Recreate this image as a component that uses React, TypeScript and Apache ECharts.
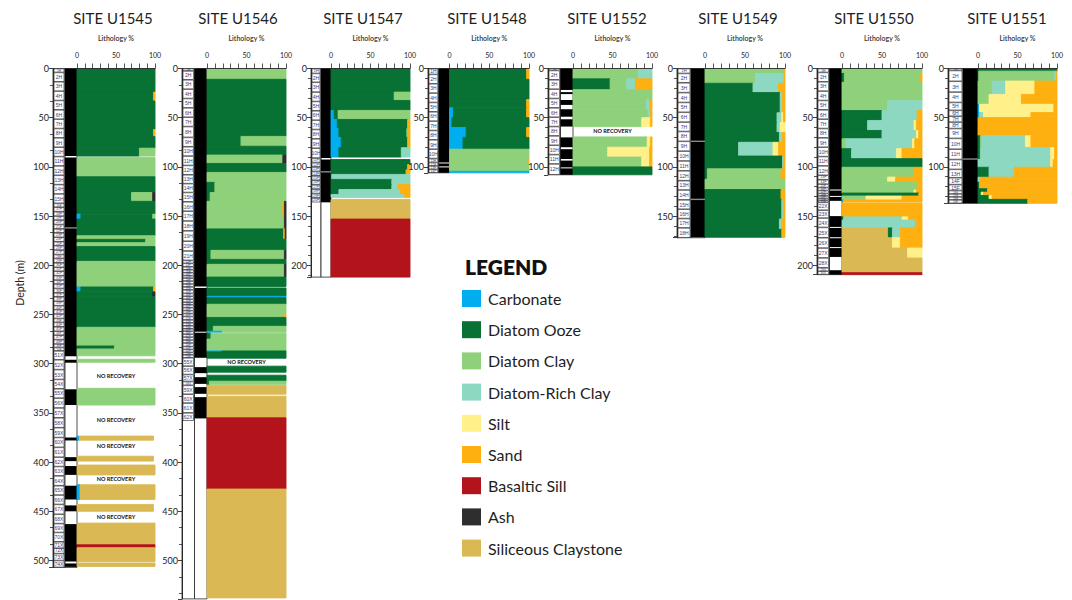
import React, { useEffect, useRef } from "react";
import * as echarts from "echarts";

// ---------------- data ----------------
const LITHOLOGY_NAMES = ["Carbonate", "Diatom Ooze", "Diatom Clay", "Diatom-Rich Clay", "Silt", "Sand", "Basaltic Sill", "Ash", "Siliceous Claystone"];
const LITHOLOGY_CODES = ["CA", "DO", "DC", "DR", "SI", "SA", "BS", "AS", "CL"];
const LITHOLOGY_COLORS = ["#00AEEF", "#087234", "#8FD17B", "#8DD8C1", "#FFF08A", "#FDB010", "#B3141B", "#2E2E2E", "#DAB954"];

const SITE_NAMES = ["SITE U1545", "SITE U1546", "SITE U1547", "SITE U1548", "SITE U1552", "SITE U1549", "SITE U1550", "SITE U1551"];
const DEPTH_MAX = [507, 539, 212, 106, 108, 172, 209.5, 137];
const DEPTH_STEP = 50;
const LITHO_TICKS = [0, 50, 100];

type Row = [number, number, string];

const LITH_U1545: Row[] = [
  [0, 24, "DO 100"], [24, 33, "DO 98 SA 2"], [33, 62, "DO 100"], [62, 69, "DO 98 SA 2"], [69, 81, "DO 100"],
  [81, 89, "DO 80 DC 20"], [90.5, 110, "DC 100"], [110, 126, "DO 100"], [126, 135, "DO 70 DC 27 AS 3"],
  [135, 148, "DO 100"], [148, 153, "CA 5 DO 92 DC 3"], [153, 170, "DO 100"], [170, 173.6, "DC 100"],
  [173.6, 177, "DO 88 DC 12"], [177, 181, "DC 100"], [181, 196, "DO 100"], [196, 222, "DC 100"],
  [222, 227, "CA 5 DO 93 SA 2"], [227, 232, "DO 97 AS 3"], [232, 263, "DO 100"], [263, 282, "DC 100"],
  [282, 285, "DO 48 DC 52"], [285, 292, "DC 100"], [295.5, 298.5, "DC 100"], [325, 342, "DC 100"],
  [373.6, 377.7, "CA 3 CL 95"], [394, 399, "CL 98"], [403, 413, "CL 100"], [423, 438, "CA 4 CL 96"],
  [443, 450, "CL 98"], [462, 484, "CL 100"], [484, 487, "BS 100"], [487, 501, "CL 100"], [502.5, 506, "CL 100"],
];
const LITH_U1546: Row[] = [
  [0, 11, "DC 100"], [11, 69, "DO 100"], [69, 79, "DO 43 DC 57"], [79, 88, "DO 100"], [88, 96.5, "DC 96 AS 4"],
  [96.5, 105.6, "DO 100"], [105.6, 115.7, "DC 100"], [115.7, 126, "DO 10 DC 90"], [126, 135, "DO 4 DC 96"],
  [135, 150, "DC 96 SA 2 AS 2"], [150, 163, "DC 98 AS 2"], [163, 173.6, "DO 97 SA 2 AS 1"], [173.6, 184.8, "DO 100"],
  [184.8, 194, "DO 5 DC 93 AS 2"], [194, 199, "DO 100"], [199, 212, "DC 98 AS 2"], [212, 221.5, "DO 100"],
  [223, 231.5, "DO 100"], [231.5, 233, "CA 100"], [233, 239.6, "DO 100"], [239.6, 250, "DC 100"], [250, 253, "DC 98 SA 2"],
  [253, 262, "DO 100"], [262, 267, "DO 8 DC 92"], [267, 268, "CA 19 DC 81"], [269, 275, "DO 5 DC 95"],
  [275, 287, "DC 100"], [287, 288, "CA 19 DO 81"], [288, 294.4, "DO 100"], [302.5, 308.6, "DO 100"],
  [311.7, 317.8, "DO 100"], [317.8, 321, "DO 3 DC 97"], [322, 331, "CL 100"], [333, 355, "CL 100"],
  [355, 427.4, "BS 100"], [427.4, 538, "CL 100"],
];
const LITH_U1547: Row[] = [
  [0, 24, "DO 100"], [24, 32.5, "DO 80 DC 20"], [32.5, 42.6, "DO 100"], [42.6, 51.8, "CA 4 DO 5 DC 91"],
  [51.8, 61, "CA 8 DO 89 SA 3"], [61, 70, "CA 10 DO 86 DC 2 SA 2"], [70, 80.5, "CA 13 DO 84 SA 3"],
  [80.5, 90, "CA 10 DO 79 DR 11"], [92.5, 97.5, "DO 100"], [97.5, 103, "DO 97 SA 3"], [103, 107.6, "DO 95 SA 5"],
  [107.6, 112.7, "DO 1 DR 99"], [112.7, 118, "DO 77 DR 23"], [118, 123, "DO 77 DR 8 SA 15"],
  [123, 128, "DO 10 DR 78 SA 12"], [128, 131, "DR 93 SA 7"], [133, 153, "CL 100"], [153, 212, "BS 100"],
];
const LITH_U1548: Row[] = [
  [0, 11, "DO 97 SA 3"], [11, 31.5, "DO 100"], [31.5, 40, "DO 97 SA 3"], [40, 50, "CA 5 DO 92 SA 3"],
  [50, 60, "CA 3 DO 97"], [60, 70, "CA 21 DO 76 SA 3"], [70, 82, "CA 17 DO 83"], [82, 92, "DC 100"],
  [92, 97, "DC 98 SA 2"], [97, 104.5, "DC 100"], [104.5, 106, "CA 100"],
];
const LITH_U1552: Row[] = [
  [0, 10.5, "DC 83 DR 17"], [10.5, 21.5, "DO 47 DC 21 DR 11 SA 21"], [21.5, 31.5, "DC 100"],
  [31.5, 42, "DC 93 DR 4 SA 3"], [42, 50, "DC 95 DR 3 SA 2"], [50, 59, "DC 87 SI 11 SA 2"],
  [69.5, 80, "DC 94 SI 4 SA 2"], [80, 90, "DC 44 SI 53 SA 3"], [90, 100, "DC 87 SI 10 SA 3"], [100, 108, "DO 100"],
];
const LITH_U1549: Row[] = [
  [0, 5, "DC 99 SA 1"], [5, 15, "DC 63 DR 36 SA 1"], [15, 24.5, "DO 60 DR 32 SA 8"], [24.5, 45, "DO 94 DR 3 SA 3"],
  [45, 55, "DO 90 DR 6 SI 2 SA 2"], [55, 65, "DO 90 DR 4 SI 6"], [65, 75, "DO 93 DR 4 SA 3"],
  [75, 89, "DO 42 DR 43 SI 7 SA 8"], [89, 102, "DO 97 DR 1 SA 2"], [102, 112.5, "DO 3 DC 92 SA 5"],
  [112.5, 123, "DC 100"], [123, 133, "DO 95 SA 5"], [133, 153, "DO 96 DR 2 SA 2"], [153, 163.5, "DO 93 DR 3 SA 4"],
  [163.5, 171.5, "DO 96 SA 4"],
];
const LITH_U1550: Row[] = [
  [0, 5, "DC 100"], [5, 14, "DO 3 DC 95 SA 2"], [14, 32.6, "DC 100"], [32.6, 42.7, "DC 57 DR 43"],
  [42.7, 52.8, "DO 50 DR 44 SA 6"], [52.8, 63, "DO 32 DR 58 SI 3 SA 7"], [63, 71.4, "DO 50 DR 43 SI 3 SA 4"],
  [71.4, 81.5, "DC 5 DR 83 SI 3 SA 9"], [81.5, 91.6, "DO 12 DR 56 SI 7 SA 25"], [91.6, 100.4, "DO 100"],
  [100.4, 110.4, "DC 90 SA 10"], [110.4, 115.4, "DC 57 SI 10 SA 33"], [115.4, 123.5, "DC 94 SA 6"],
  [123.5, 126.6, "DC 90 SI 3 SA 7"], [126.6, 129.6, "DO 96 SA 4"], [129.6, 133.6, "DC 30 SI 45 SA 25"],
  [133.6, 135.6, "CA 2 SA 98"], [136.6, 150.8, "SA 100"], [150.8, 154, "DO 2 DR 73 SI 8 SA 17"],
  [154, 162, "DR 92 SA 8"], [162, 172, "CL 58 DO 5 DR 10 SA 27"], [172, 182.5, "CL 63 SI 10 SA 27"],
  [182.5, 192.6, "CL 82 SI 18"], [192.6, 207.5, "CL 100"], [207.5, 209.5, "BS 100"],
];
const LITH_U1551: Row[] = [
  [0, 2.7, "DO 100"], [2.7, 12.8, "DO 1 DC 96 DR 2 SA 1"], [12.8, 26.3, "DC 18 DR 17 SI 37 SA 28"],
  [26.3, 36.4, "DC 14 SI 41 SA 45"], [36.4, 44.8, "CA 2 SI 94 SA 4"], [44.8, 49.9, "CA 2 DR 5 SI 60 SA 33"],
  [49.9, 68.4, "SA 100"], [68.4, 80.2, "DO 3 DC 2 DR 55 SI 7 SA 33"], [80.2, 92, "DO 3 DR 89 SI 5 SA 3"],
  [92.5, 100.4, "DR 92 SI 3 SA 5"], [100.4, 110.5, "DO 14 DR 32 SA 54"], [110.5, 115.5, "DR 3 SA 97"],
  [115.5, 122.2, "DO 2 SA 98"], [122.2, 125.7, "DO 12 SA 88"], [125.7, 129, "DO 4 SI 3 SA 93"],
  [129, 133, "DO 14 SI 4 SA 82"], [133, 137, "DO 63 SA 37"],
];

type Core = [string, number];
const CORES_U1545: Core[] = [
  ["1H", 0], ["2H", 4], ["3H", 13.5], ["4H", 23], ["5H", 32.5], ["6H", 42], ["7H", 51.5], ["8H", 61], ["9H", 70.5],
  ["10H", 80], ["11H", 89.5], ["12H", 99], ["13H", 108.5], ["14H", 118], ["15H", 127.5], ["16F", 137], ["17F", 141],
  ["18F", 145.5], ["19F", 150], ["20F", 154], ["21F", 158.5], ["22F", 163], ["23F", 167], ["24F", 171.5], ["25F", 176],
  ["26F", 180], ["27F", 184.5], ["28F", 189], ["29F", 193], ["30F", 197.5], ["31F", 202], ["32F", 206], ["33F", 210.5],
  ["34F", 215], ["35F", 219], ["36F", 223.5], ["37F", 228], ["38F", 232], ["39F", 236.5], ["40F", 241], ["41F", 245],
  ["42F", 249.5], ["43F", 254], ["44F", 258], ["45F", 262.5], ["46F", 267], ["47F", 271], ["48F", 275.5], ["49F", 280],
  ["50F", 283.5], ["51X", 287], ["52X", 296], ["53X", 306], ["54X", 316], ["55X", 325.5], ["56X", 335], ["57X", 345],
  ["58X", 355], ["59X", 365], ["60X", 375], ["61X", 385], ["62X", 395], ["63X", 404.5], ["64X", 414], ["65X", 424],
  ["66X", 433.5], ["67X", 443], ["68X", 453], ["69X", 462.5], ["70X", 471.5], ["71X", 481], ["72X", 487.5],
  ["73X", 493], ["74X", 500],
];
const CORES_U1546: Core[] = [
  ["1H", 0], ["2H", 2.5], ["3H", 11.5], ["4H", 21], ["5H", 30.5], ["6H", 40], ["7H", 49.5], ["8H", 59], ["9H", 70],
  ["10H", 79.5], ["11H", 89], ["12H", 98.5], ["13H", 108], ["14H", 117], ["15H", 126], ["16H", 135.5], ["17H", 145],
  ["18H", 155], ["19H", 165], ["20H", 175.5], ["21H", 185.5], ["22F", 195], ["23F", 198], ["24F", 201.5], ["25F", 204.5],
  ["26F", 207.5], ["27F", 210.5], ["28F", 213], ["29F", 216], ["30F", 219], ["31F", 222], ["32F", 225], ["33F", 228.5],
  ["34F", 231.5], ["35F", 234.5], ["36F", 237.5], ["37F", 240], ["38F", 243], ["39F", 246], ["40F", 249], ["41F", 252],
  ["42F", 255.5], ["43F", 258.5], ["44F", 261.5], ["45F", 264.5], ["46F", 267], ["47F", 270], ["48F", 273], ["49F", 276],
  ["50F", 279], ["51F", 282.5], ["52F", 285.5], ["53F", 288.5], ["54F", 291], ["55X", 294], ["56X", 302.5],
  ["57X", 311], ["58X", 318], ["59X", 322], ["60X", 331], ["61X", 340], ["62X", 350],
];
const CORES_U1547: Core[] = [
  ["1H", 0], ["2H", 5], ["3H", 14], ["4H", 24], ["5H", 33.5], ["6H", 43], ["7H", 52.5], ["8H", 62], ["9H", 71.5],
  ["10H", 81], ["11F", 91], ["12F", 95.5], ["13F", 100], ["14F", 104.5], ["15F", 109], ["16F", 113.5], ["17F", 118],
  ["18F", 122.5], ["19F", 127], ["20F", 131.5],
];
const CORES_U1548: Core[] = [
  ["1H", 0], ["2H", 6], ["3H", 15.5], ["4H", 25], ["5H", 34.5], ["6H", 44], ["7H", 53.5], ["8H", 63], ["9H", 72.5],
  ["10H", 82], ["11H", 91.5], ["12F", 95.5], ["13F", 99], ["14F", 102.5],
];
const CORES_U1552: Core[] = [
  ["1H", 0], ["2H", 2], ["3H", 11.5], ["4H", 21], ["5H", 30.5], ["6H", 40], ["7H", 49.5], ["8H", 59], ["9H", 68.5],
  ["10H", 78], ["11H", 87.5], ["12H", 97],
];
const CORES_U1549: Core[] = [
  ["1H", 0], ["2H", 5], ["3H", 14.5], ["4H", 24.5], ["5H", 34.5], ["6H", 44.5], ["7H", 54.5], ["8H", 64], ["9H", 74],
  ["10H", 84], ["11H", 94], ["12H", 104], ["13H", 114], ["14H", 123.5], ["15H", 133.5], ["16H", 143], ["17H", 152.5],
  ["18H", 162],
];
const CORES_U1550: Core[] = [
  ["1H", 0], ["2H", 4], ["3H", 13.5], ["4H", 23], ["5H", 32.5], ["6H", 42], ["7H", 51.5], ["8H", 61], ["9H", 70.5],
  ["10H", 80], ["11H", 89.5], ["12H", 99], ["13F", 108.5], ["14F", 113], ["15F", 117.5], ["16F", 121], ["17F", 124],
  ["18F", 127], ["19F", 129.5], ["20F", 132], ["21F", 134], ["22X", 136], ["23X", 144], ["24X", 152], ["25X", 161.5],
  ["26X", 172], ["27X", 182.5], ["28X", 192.5], ["29X", 202.5], ["30X", 206],
];
const CORES_U1551: Core[] = [
  ["1H", 0], ["2H", 2], ["3H", 13], ["4H", 24], ["5H", 34.5], ["6H", 42.5], ["7H", 48.5], ["8H", 54.5], ["9H", 61],
  ["10H", 71], ["11H", 82], ["12H", 92.5], ["13H", 102.5], ["14F", 111], ["15F", 118], ["16F", 124], ["17F", 127.5],
  ["18F", 130.5], ["19F", 133.5],
];
const CORE_END = [507, 358, 136, 106, 108, 172, 209.5, 137];

type Span = [number, number];
const RECOVERY_U1545: Span[] = [[0, 89], [90.5, 292.5], [296, 299], [326, 342], [375, 378], [395, 399], [404, 413], [424, 438], [444, 450], [463, 501], [503, 506.5]];
const RECOVERY_U1546: Span[] = [[0, 221.5], [223, 267.5], [268.5, 294], [303.5, 309.6], [313.7, 320.5], [323.8, 330.6], [334, 355.6]];
const RECOVERY_U1547: Span[] = [[0, 91], [92.5, 136]];
const RECOVERY_U1548: Span[] = [[0, 95.5], [96.5, 99.5], [100.5, 106]];
const RECOVERY_U1552: Span[] = [[0, 21.8], [24, 26], [32, 37], [41.4, 49], [51.6, 59], [70, 80], [82, 92], [93.6, 100.5], [101.5, 108]];
const RECOVERY_U1549: Span[] = [[0, 171.5]];
const RECOVERY_U1550: Span[] = [[0, 123], [124, 129.5], [130.5, 134.5], [150, 161], [162, 171.5], [172.5, 181.5], [182.5, 191.5], [205, 209.5]];
const RECOVERY_U1551: Span[] = [[0, 137]];

const HOLE_BREAKS: number[][] = [[162], [], [105], [], [], [74, 133], [], [92]];
const NO_RECOVERY: [number, number][] = [[0, 312], [0, 357], [0, 384], [0, 417], [0, 456], [1, 298.5], [4, 64]];

const LITH = [LITH_U1545, LITH_U1546, LITH_U1547, LITH_U1548, LITH_U1552, LITH_U1549, LITH_U1550, LITH_U1551];
const CORES = [CORES_U1545, CORES_U1546, CORES_U1547, CORES_U1548, CORES_U1552, CORES_U1549, CORES_U1550, CORES_U1551];
const RECOVERY = [RECOVERY_U1545, RECOVERY_U1546, RECOVERY_U1547, RECOVERY_U1548, RECOVERY_U1552, RECOVERY_U1549, RECOVERY_U1550, RECOVERY_U1551];

// ---------------- layout ----------------
const FONT = "Lato";
const PX_PER_M = 0.984;
const PLOT_TOP = 68.5;
const PANELS = [
  { core: 53, plot: 77, right: 155, title: 113 },
  { core: 182, plot: 207, right: 286, title: 238 },
  { core: 311, plot: 331, right: 410, title: 363 },
  { core: 428, plot: 449.5, right: 529, title: 487 },
  { core: 548, plot: 573, right: 652, title: 607 },
  { core: 677, plot: 705, right: 785, title: 738 },
  { core: 817, plot: 842, right: 922, title: 874 },
  { core: 948, plot: 978, right: 1057, title: 1007 },
];

function lithoData(rows: Row[]) {
  const out: number[][] = [];
  rows.forEach(([top, bot, comp]) => {
    const t = comp.split(" ");
    let x = 0;
    for (let k = 0; k < t.length; k += 2) {
      const idx = LITHOLOGY_CODES.indexOf(t[k]);
      const p = Number(t[k + 1]);
      out.push([top, bot, x, x + p, idx]);
      x += p;
    }
  });
  return out;
}

function buildOption() {
  const grid: any[] = [];
  const xAxis: any[] = [];
  const yAxis: any[] = [];
  const series: any[] = [];
  const graphic: any[] = [];
  const axisColor = "#2a2a2a";

  SITE_NAMES.forEach((name, i) => {
    const p = PANELS[i];
    const h = DEPTH_MAX[i] * PX_PER_M;
    const gCore = 2 * i;
    const gPlot = 2 * i + 1;
    grid.push({ left: p.core, top: PLOT_TOP, width: p.plot - p.core, height: h });
    grid.push({ left: p.plot, top: PLOT_TOP, width: p.right - p.plot, height: h });

    xAxis.push({ gridIndex: gCore, type: "value", min: 0, max: 2, show: false });
    xAxis.push({
      gridIndex: gPlot, type: "value", position: "top", min: LITHO_TICKS[0], max: LITHO_TICKS[2], interval: LITHO_TICKS[1], z: 5,
      name: "Lithology %", nameLocation: "middle", nameGap: 27,
      nameTextStyle: { fontSize: 7, fontWeight: 600, color: "#333", fontFamily: FONT },
      axisLine: { show: true, lineStyle: { color: axisColor, width: 0.9 } },
      axisTick: { show: true, length: 5, lineStyle: { color: axisColor, width: 0.8 } },
      minorTick: { show: true, splitNumber: 5, length: 5, lineStyle: { color: axisColor, width: 0.8 } },
      axisLabel: { fontSize: 7, color: "#222", margin: 10, fontFamily: FONT },
      splitLine: { show: false }, minorSplitLine: { show: false },
    });
    yAxis.push({
      gridIndex: gCore, type: "value", inverse: true, min: 0, max: DEPTH_MAX[i], interval: DEPTH_STEP, z: 5,
      axisLine: { show: true, lineStyle: { color: axisColor, width: 1 } },
      axisTick: { show: true, length: 4, lineStyle: { color: axisColor, width: 0.9 } },
      minorTick: { show: true, splitNumber: DEPTH_MAX[i] > 300 ? 3 : 5, length: 3, lineStyle: { color: axisColor, width: 0.8 } },
      axisLabel: {
        fontSize: 9, color: "#222", margin: 4, fontFamily: FONT,
        formatter: (v: number) => (v % DEPTH_STEP === 0 ? String(v) : ""),
      },
      splitLine: { show: false },
    });
    yAxis.push({ gridIndex: gPlot, type: "value", inverse: true, min: 0, max: DEPTH_MAX[i], show: false });

    // column frames
    series.push({
      type: "custom", xAxisIndex: gCore, yAxisIndex: gCore, silent: true, z: 1,
      data: [[0, DEPTH_MAX[i]]],
      renderItem: (_: any, api: any) => {
        const a = api.coord([0, api.value(0)]);
        const m = api.coord([1, api.value(1)]);
        const b = api.coord([2, api.value(1)]);
        return {
          type: "group", children: [
            { type: "rect", shape: { x: a[0], y: a[1], width: m[0] - a[0], height: b[1] - a[1] }, style: { fill: "#fff", stroke: "#222", lineWidth: 0.8 } },
            { type: "rect", shape: { x: m[0], y: a[1], width: b[0] - m[0], height: b[1] - a[1] }, style: { fill: "#fff", stroke: "#222", lineWidth: 0.8 } },
          ],
        };
      },
    });
    // recovery (black column)
    series.push({
      type: "custom", xAxisIndex: gCore, yAxisIndex: gCore, silent: true, z: 2,
      data: RECOVERY[i].map((s) => [s[0], s[1]]),
      renderItem: (_: any, api: any) => {
        const a = api.coord([1, api.value(0)]);
        const b = api.coord([2, api.value(1)]);
        return { type: "rect", shape: { x: a[0], y: a[1], width: b[0] - a[0], height: b[1] - a[1] }, style: { fill: "#000" } };
      },
    });
    // hole breaks
    if (HOLE_BREAKS[i].length) {
      series.push({
        type: "custom", xAxisIndex: gCore, yAxisIndex: gCore, silent: true, z: 3,
        data: HOLE_BREAKS[i].map((d) => [d]),
        renderItem: (_: any, api: any) => {
          const a = api.coord([1, api.value(0)]);
          const b = api.coord([2, api.value(0)]);
          return { type: "rect", shape: { x: a[0], y: a[1] - 0.7, width: b[0] - a[0], height: 1.4 }, style: { fill: "#8a8a8a" } };
        },
      });
    }
    // core boxes with labels
    const cores = CORES[i];
    series.push({
      type: "custom", xAxisIndex: gCore, yAxisIndex: gCore, silent: true, z: 3,
      data: cores.map((c, k) => [c[1], k + 1 < cores.length ? cores[k + 1][1] : CORE_END[i]]),
      renderItem: (params: any, api: any) => {
        const a = api.coord([0, api.value(0)]);
        const b = api.coord([1, api.value(1)]);
        const hh = b[1] - a[1];
        const fs = Math.max(3, Math.min(5, hh - 0.8));
        return {
          type: "group", children: [
            { type: "rect", shape: { x: a[0] + 1, y: a[1] + 0.3, width: b[0] - a[0] - 2, height: Math.max(0.5, hh - 0.6) }, style: { fill: "#fff", stroke: "#1a1a1a", lineWidth: 0.6 } },
            { type: "text", x: (a[0] + b[0]) / 2, y: a[1] + hh / 2, style: { text: cores[params.dataIndex][0], fontSize: fs, fill: "#3a3a78", align: "center", verticalAlign: "middle", fontFamily: "Liberation Sans" } },
          ],
        };
      },
    });
    // lithology
    series.push({
      type: "custom", xAxisIndex: gPlot, yAxisIndex: gPlot, silent: true, z: 2,
      data: lithoData(LITH[i]),
      renderItem: (_: any, api: any) => {
        const a = api.coord([api.value(2), api.value(0)]);
        const b = api.coord([api.value(3), api.value(1)]);
        const c = LITHOLOGY_COLORS[api.value(4)];
        return { type: "rect", shape: { x: a[0], y: a[1], width: b[0] - a[0], height: b[1] - a[1] }, style: { fill: c, stroke: c, lineWidth: 0.9 } };
      },
    });
    // no recovery labels
    const nr = NO_RECOVERY.filter((n) => n[0] === i);
    if (nr.length) {
      series.push({
        type: "custom", xAxisIndex: gPlot, yAxisIndex: gPlot, silent: true, z: 4,
        data: nr.map((n) => [n[1]]),
        renderItem: (_: any, api: any) => {
          const a = api.coord([50, api.value(0)]);
          return { type: "text", x: a[0], y: a[1], style: { text: "NO RECOVERY", fontSize: 5.5, fontWeight: 700, fill: "#111", align: "center", verticalAlign: "middle", fontFamily: FONT } };
        },
      });
    }

    graphic.push({
      type: "text", x: p.title, y: 18,
      style: { text: name, fontSize: 15, fontWeight: "normal", fill: "#1e1e1e", align: "center", verticalAlign: "middle", fontFamily: FONT },
    });
  });

  graphic.push({
    type: "text", x: 20, y: 283, rotation: Math.PI / 2,
    style: { text: "Depth (m)", fontSize: 10.5, fill: "#222", align: "center", verticalAlign: "middle", fontFamily: FONT },
  });
  graphic.push({
    type: "text", x: 465, y: 266,
    style: { text: "LEGEND", fontSize: 21, fontWeight: 800, fill: "#111", align: "left", verticalAlign: "middle", fontFamily: FONT },
  });
  LITHOLOGY_NAMES.forEach((n, k) => {
    const yc = 298.5 + k * 31.2;
    graphic.push({ type: "rect", shape: { x: 462, y: yc - 8.5, width: 19, height: 17 }, style: { fill: LITHOLOGY_COLORS[k] } });
    graphic.push({
      type: "text", x: 488, y: yc,
      style: { text: n, fontSize: 16, fill: "#1e1e1e", align: "left", verticalAlign: "middle", fontFamily: FONT },
    });
  });

  return {
    animation: false,
    backgroundColor: "#fff",
    textStyle: { fontFamily: FONT },
    grid, xAxis, yAxis, series, graphic,
  };
}

export default function App() {
  const ref = useRef<HTMLDivElement>(null);
  useEffect(() => {
    const chart = echarts.init(ref.current as HTMLDivElement, null, { renderer: "svg" });
    chart.setOption(buildOption() as any);
    return () => chart.dispose();
  }, []);
  return <div ref={ref} style={{ position: "fixed", left: 0, top: 0, width: 1072, height: 600, background: "#fff" }} />;
}
